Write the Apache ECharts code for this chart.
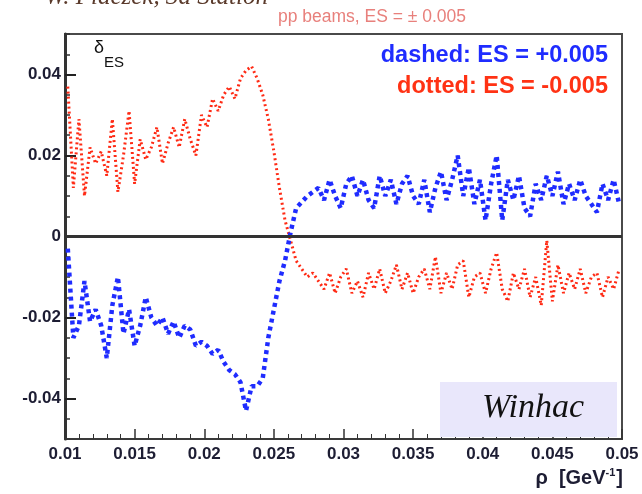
<!DOCTYPE html>
<html><head><meta charset="utf-8">
<script src="https://cdn.jsdelivr.net/npm/echarts@6/dist/echarts.min.js"></script>
<style>html,body{margin:0;padding:0;background:#fff}#c{width:642px;height:494px}</style>
</head><body><div id="c"></div>
<script>
const rho = [0.0102,0.0106,0.0110,0.0114,0.0118,0.0122,0.0126,0.0130,0.0134,0.0138,
0.0142,0.0146,0.0150,0.0154,0.0158,0.0162,0.0166,0.0170,0.0174,0.0178,
0.0182,0.0186,0.0190,0.0194,0.0198,0.0202,0.0206,0.0210,0.0214,0.0218,
0.0222,0.0226,0.0230,0.0234,0.0238,0.0242,0.0246,0.0250,0.0254,0.0258,
0.0262,0.0266,0.0270,0.0274,0.0278,0.0282,0.0286,0.0290,0.0294,0.0298,
0.0302,0.0306,0.0310,0.0314,0.0318,0.0322,0.0326,0.0330,0.0334,0.0338,
0.0342,0.0346,0.0350,0.0354,0.0358,0.0362,0.0366,0.0370,0.0374,0.0378,
0.0382,0.0386,0.0390,0.0394,0.0398,0.0402,0.0406,0.0410,0.0414,0.0418,
0.0422,0.0426,0.0430,0.0434,0.0438,0.0442,0.0446,0.0450,0.0454,0.0458,
0.0462,0.0466,0.0470,0.0474,0.0478,0.0482,0.0486,0.0490,0.0494,0.0498];

// dashed: ES = +0.005 (blue)
const dashedPlus = [-0.003,-0.025,-0.022,-0.011,-0.021,-0.018,-0.022,-0.030,-0.017,-0.010,
-0.024,-0.018,-0.027,-0.022,-0.015,-0.020,-0.022,-0.020,-0.024,-0.021,
-0.025,-0.022,-0.023,-0.027,-0.026,-0.027,-0.029,-0.028,-0.031,-0.033,
-0.034,-0.036,-0.043,-0.037,-0.037,-0.035,-0.025,-0.018,-0.011,-0.006,
0.001,0.007,0.0085,0.010,0.011,
0.012,0.009,0.014,0.010,0.007,0.013,0.015,0.010,0.014,0.009,
0.007,0.015,0.010,0.014,0.008,0.013,0.015,0.010,0.008,0.014,
0.006,0.012,0.016,0.009,0.014,0.020,0.010,0.017,0.008,0.014,
0.004,0.013,0.020,0.004,0.014,0.009,0.015,0.007,0.005,0.013,
0.009,0.015,0.010,0.016,0.008,0.013,0.009,0.014,0.010,0.008,
0.006,0.013,0.009,0.014,0.008];

// dotted: ES = -0.005 (red)
const dottedMinus = [0.037,0.012,0.029,0.010,0.022,0.018,0.021,0.015,0.029,0.011,
0.020,0.031,0.013,0.024,0.019,0.022,0.027,0.018,0.023,0.027,
0.022,0.029,0.024,0.020,0.030,0.027,0.034,0.031,0.035,0.037,
0.034,0.039,0.041,0.042,0.039,0.035,0.029,0.021,0.012,0.004,
-0.001,-0.006,-0.008,-0.010,-0.009,
-0.011,-0.013,-0.009,-0.014,-0.010,-0.008,-0.014,-0.011,-0.015,-0.009,
-0.013,-0.008,-0.014,-0.011,-0.007,-0.013,-0.009,-0.014,-0.010,-0.008,
-0.013,-0.005,-0.014,-0.009,-0.013,-0.007,-0.006,-0.015,-0.010,-0.009,
-0.014,-0.008,-0.004,-0.013,-0.016,-0.009,-0.013,-0.008,-0.015,-0.010,
-0.017,-0.001,-0.016,-0.007,-0.014,-0.009,-0.013,-0.008,-0.014,-0.010,
-0.009,-0.015,-0.010,-0.013,-0.008];

const yLabelValues = [-0.04, -0.02, 0, 0.02, 0.04];
const titleText = 'pp beams, ES = \u00b1 0.005';
const legendPlus = 'dashed: ES = +0.005';
const legendMinus = 'dotted: ES = -0.005';

const chart = echarts.init(document.getElementById('c'), null, {renderer: 'canvas'});
const F = 'Liberation Sans, Arial, sans-serif';
chart.setOption({
  animation: false,
  backgroundColor: '#fff',
  grid: {left: 65, right: 20, top: 34, bottom: 55, show: true, borderColor: '#4a4a4a', borderWidth: 2, backgroundColor: 'transparent'},
  xAxis: {
    type: 'value', min: 0.01, max: 0.05, interval: 0.005,
    axisLine: {show: true, onZero: false, lineStyle: {color: '#3a3a3a', width: 2}},
    axisTick: {show: true, inside: true, length: 10, lineStyle: {color: '#333', width: 1.5}},
    minorTick: {show: true, splitNumber: 5, length: 5, lineStyle: {color: '#333', width: 1}},
    splitLine: {show: false},
    axisLabel: {margin: 7, color: '#1d1d33', fontFamily: F, fontWeight: 'bold', fontSize: 17,
      formatter: v => String(+v.toFixed(3))}
  },
  yAxis: [{
    type: 'value', min: -0.05, max: 0.05, interval: 0.005,
    axisLine: {show: true, onZero: false, lineStyle: {color: '#333', width: 3}},
    axisTick: {show: true, inside: true, length: 5, lineStyle: {color: '#333', width: 1.5}},
    splitLine: {show: false},
    axisLabel: {customValues: yLabelValues, margin: 4, color: '#1d1d33', fontFamily: F, fontWeight: 'bold', fontSize: 17,
      formatter: v => (Math.abs(v) < 1e-9 ? '0' : String(+v.toFixed(2)))}
  }, {
    type: 'value', min: -0.05, max: 0.05, position: 'left',
    axisLine: {show: false},
    axisTick: {show: true, inside: true, length: 11, customValues: yLabelValues, lineStyle: {color: '#222', width: 2}},
    axisLabel: {show: false},
    splitLine: {show: false}
  }],
  series: [{
    type: 'line', name: legendMinus, yAxisIndex: 0,
    data: rho.map((x, i) => [x, dottedMinus[i]]),
    symbol: 'none',
    lineStyle: {color: '#ff2a14', width: 3, type: [2, 3]},
    markLine: {silent: true, symbol: 'none', label: {show: false},
      lineStyle: {color: '#333', width: 3, type: 'solid'}, data: [{yAxis: 0}]},
    z: 3
  }, {
    type: 'line', name: legendPlus, yAxisIndex: 0,
    data: rho.map((x, i) => [x, dashedPlus[i]]),
    symbol: 'none',
    lineStyle: {color: '#1f2cff', width: 4.5, type: [4, 4]},
    z: 4
  }],
  graphic: [
    {type: 'text', right: 374, top: -15, z: 10, style: {text: 'W. P\u0142aczek, 3d Station', font: 'italic 25px Liberation Serif, serif', fill: '#5b3b2c'}},
    {type: 'text', x: 372, y: 17, z: 10, style: {text: titleText, font: '17.5px ' + F, fill: '#e8807c', textAlign: 'center', textVerticalAlign: 'middle'}},
    {type: 'text', x: 94, y: 48, z: 10, style: {text: '\u03b4', font: '18px ' + F, fill: '#111', textAlign: 'left', textVerticalAlign: 'middle'}},
    {type: 'text', x: 104, y: 63, z: 10, style: {text: 'ES', font: '15px ' + F, fill: '#111', textAlign: 'left', textVerticalAlign: 'middle'}},
    {type: 'text', x: 608, y: 56, z: 10, style: {text: legendPlus, font: 'bold 23.5px ' + F, fill: '#1f2cff', textAlign: 'right', textVerticalAlign: 'middle'}},
    {type: 'text', x: 608, y: 87, z: 10, style: {text: legendMinus, font: 'bold 23.5px ' + F, fill: '#ff3214', textAlign: 'right', textVerticalAlign: 'middle'}},
    {type: 'rect', z: 20, shape: {x: 440, y: 382, width: 177, height: 55}, style: {fill: '#e9e7fb'}},
    {type: 'text', x: 533, y: 408, z: 21, style: {text: 'Winhac', font: 'italic 34px Liberation Serif, serif', fill: '#111', textAlign: 'center', textVerticalAlign: 'middle'}},
    {type: 'text', x: 623, y: 478, z: 10, style: {
      text: '{a|\u03c1  [GeV}{s|-1}{a|]}', textAlign: 'right', textVerticalAlign: 'middle',
      rich: {a: {font: 'bold 20px ' + F, fill: '#1d1d33'}, s: {font: 'bold 11px ' + F, fill: '#1d1d33', verticalAlign: 'top', padding: [0, 1, 11, 0]}}}}
  ]
});
</script></body></html>
